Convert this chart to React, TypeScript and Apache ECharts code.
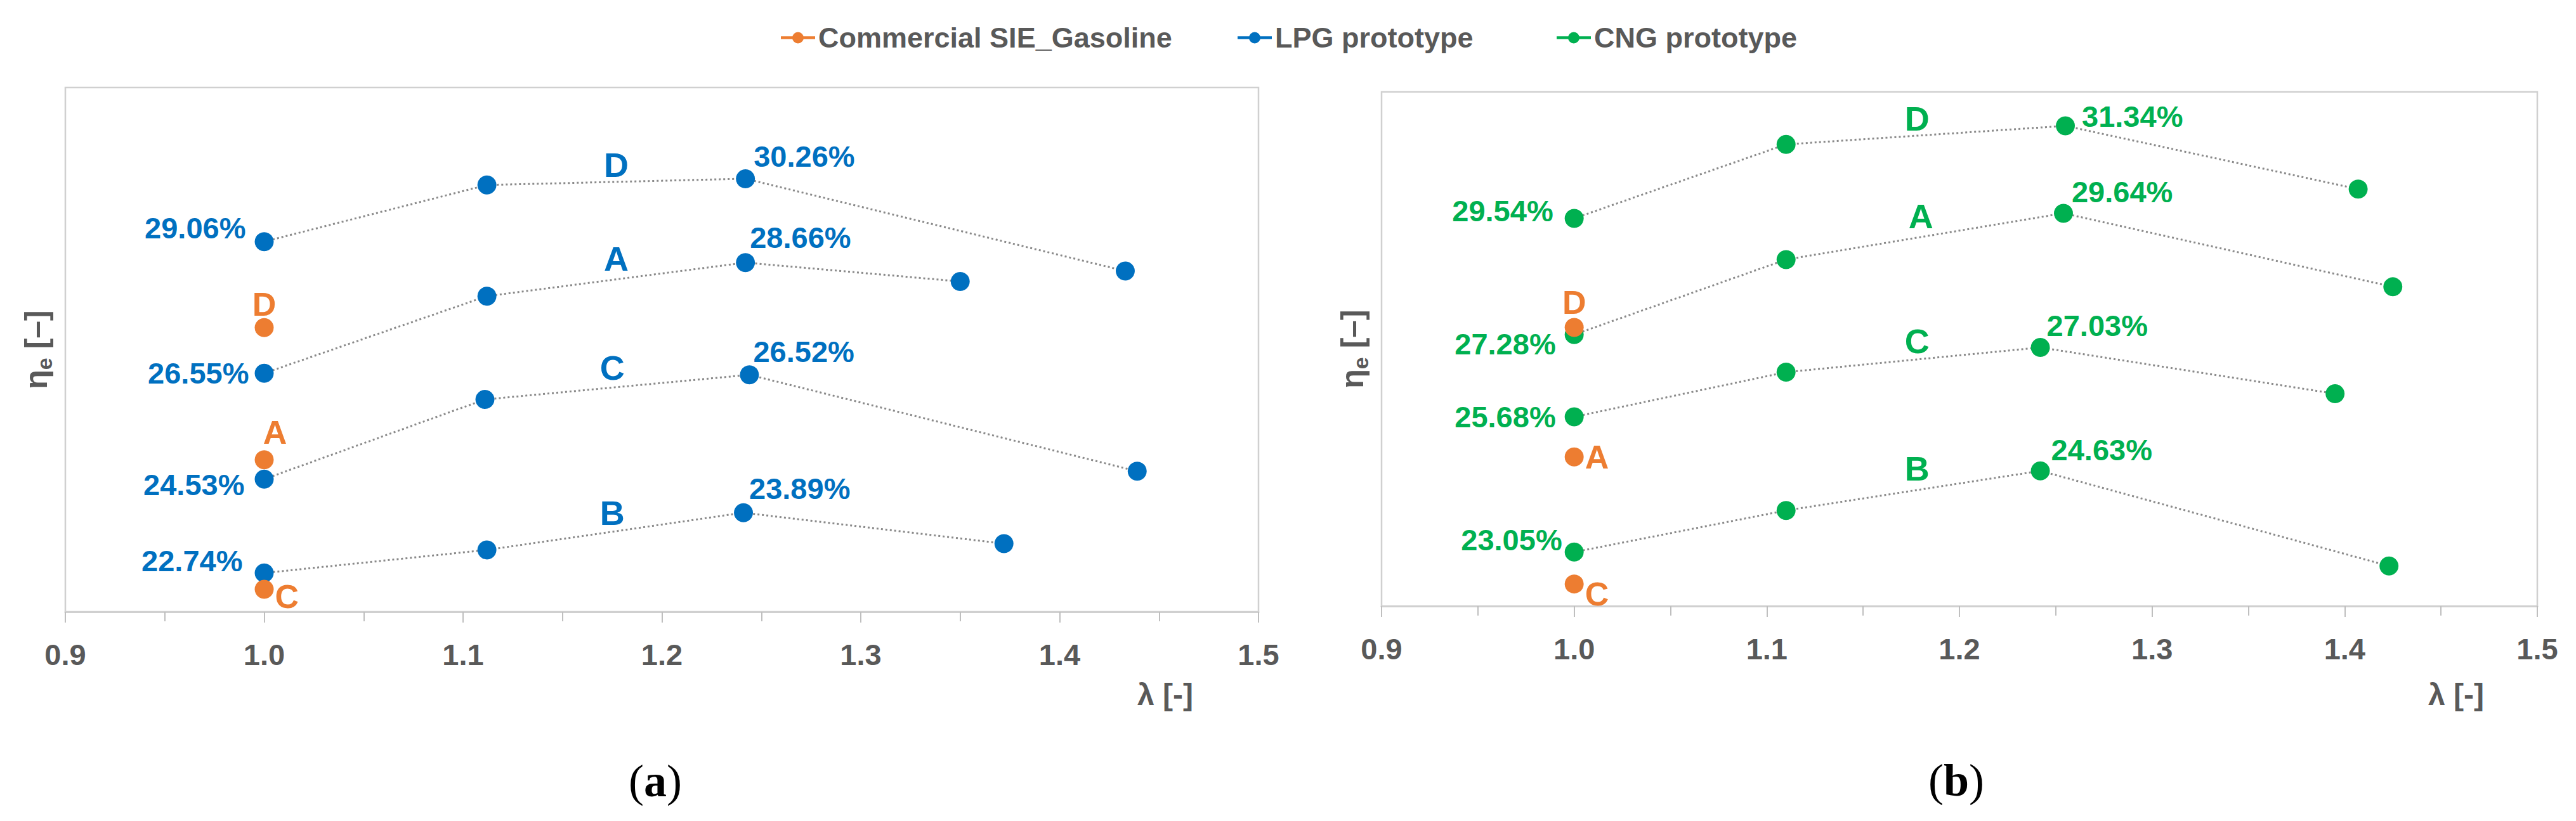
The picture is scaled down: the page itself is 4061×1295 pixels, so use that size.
import React, { useEffect, useRef } from "react";
import * as echarts from "echarts";

// ---------- data ----------
const xTickMin = 0.9;
const xTickMax = 1.5;
const xTickStep = 0.1;
const yMin = 22;
const yMax = 32;

// Commercial SIE gasoline (same reference points on both panels)
const gasLambda = [1.0, 1.0, 1.0];
const gasEta = [27.42, 24.9, 22.43];
const gasTags = ["D", "A", "C"];

// LPG prototype (panel a)
const lpgDLambda = [1.0, 1.112, 1.242, 1.433];
const lpgDEta = [29.06, 30.14, 30.26, 28.5];
const lpgALambda = [1.0, 1.112, 1.242, 1.35];
const lpgAEta = [26.55, 28.02, 28.66, 28.3];
const lpgCLambda = [1.0, 1.111, 1.244, 1.439];
const lpgCEta = [24.53, 26.05, 26.52, 24.68];
const lpgBLambda = [1.0, 1.112, 1.241, 1.372];
const lpgBEta = [22.74, 23.18, 23.89, 23.3];

// CNG prototype (panel b)
const cngDLambda = [1.0, 1.11, 1.255, 1.407];
const cngDEta = [29.54, 30.98, 31.34, 30.11];
const cngALambda = [1.0, 1.11, 1.254, 1.425];
const cngAEta = [27.28, 28.74, 29.64, 28.21];
const cngCLambda = [1.0, 1.11, 1.242, 1.395];
const cngCEta = [25.68, 26.55, 27.03, 26.13];
const cngBLambda = [1.0, 1.11, 1.242, 1.423];
const cngBEta = [23.05, 23.86, 24.63, 22.78];

// curve-name annotations (data coordinates)
const lpgTagNames = ["D", "A", "C", "B"];
const lpgTagLambda = [1.177, 1.177, 1.175, 1.175];
const lpgTagEta = [30.52, 28.74, 26.66, 23.89];
const cngTagNames = ["D", "A", "C", "B"];
const cngTagLambda = [1.178, 1.18, 1.178, 1.178];
const cngTagEta = [31.48, 29.58, 27.15, 24.67];

const legendNames = ["Commercial SIE_Gasoline", "LPG prototype", "CNG prototype"];

// ---------- styles ----------
const FONT = "'Liberation Sans', Arial, Helvetica, sans-serif";
const SERIF = "'Liberation Serif', 'Times New Roman', Times, serif";
const GRAY = "#595959";
const ORANGE = "#ED7D31";
const BLUE = "#0070C0";
const GREEN = "#00B050";
const ICON = "path://M0,8.5h60v5h-60z M20,11a10,10 0 1,1 20,0a10,10 0 1,1 -20,0z";

type LC = { position: string; distance: number; offset?: number[] } | null;

// label placement (style only)
const lpgLabelPos: Record<string, LC[]> = {
  D: [{ position: "left", distance: 14, offset: [0, -22] }, null, { position: "right", distance: -2, offset: [0, -35] }, null],
  A: [{ position: "left", distance: 9, offset: [0, 0] }, null, { position: "right", distance: -8, offset: [0, -40] }, null],
  C: [{ position: "left", distance: 16, offset: [0, 9] }, null, { position: "right", distance: -9, offset: [0, -37] }, null],
  B: [{ position: "left", distance: 19, offset: [0, -19] }, null, { position: "right", distance: -6, offset: [0, -38] }, null],
};
const cngLabelPos: Record<string, LC[]> = {
  D: [{ position: "left", distance: 18, offset: [0, -12] }, null, { position: "right", distance: 11, offset: [0, -15] }, null],
  A: [{ position: "left", distance: 14, offset: [0, 15] }, null, { position: "right", distance: -2, offset: [0, -34] }, null],
  C: [{ position: "left", distance: 14, offset: [0, 0] }, null, { position: "right", distance: -5, offset: [0, -35] }, null],
  B: [{ position: "left", distance: 4, offset: [0, -19] }, null, { position: "right", distance: 2, offset: [0, -33] }, null],
};
const gasLabelPosA: LC[] = [
  { position: "top", distance: -4, offset: [0, 0] },
  { position: "top", distance: 2, offset: [17, 0] },
  { position: "right", distance: 2, offset: [0, 12] },
];
const gasLabelPosB: LC[] = [
  { position: "top", distance: -2, offset: [0, 0] },
  { position: "right", distance: 2, offset: [0, 0] },
  { position: "right", distance: 2, offset: [0, 16] },
];

function curve(name: string, color: string, g: number, lam: number[], eta: number[], pos: LC[]) {
  return {
    type: "line",
    name,
    xAxisIndex: g,
    yAxisIndex: g,
    color,
    symbol: "circle",
    symbolSize: 30,
    itemStyle: { color },
    lineStyle: { color: "#8a8a8a", width: 3, type: [3, 4] },
    label: {
      show: false,
      color,
      fontSize: 47,
      fontWeight: "bold",
      fontFamily: FONT,
      formatter: (p: any) => p.value[1].toFixed(2) + "%",
    },
    data: lam.map((x, i) => {
      const item: any = { value: [x, eta[i]] };
      const lc = pos[i];
      if (lc) item.label = { show: true, ...lc };
      return item;
    }),
    z: 3,
  };
}

function gasSeries(g: number, pos: LC[]) {
  return {
    type: "scatter",
    name: legendNames[0],
    xAxisIndex: g,
    yAxisIndex: g,
    symbol: "circle",
    symbolSize: 30,
    itemStyle: { color: ORANGE, opacity: 1 },
    label: {
      show: true,
      color: ORANGE,
      fontSize: 52,
      fontWeight: "bold",
      fontFamily: FONT,
      formatter: (p: any) => p.value[2],
    },
    data: gasLambda.map((x, i) => ({
      value: [x, gasEta[i], gasTags[i]],
      label: { ...(pos[i] as any) },
    })),
    z: 5,
  };
}

function tagSeries(g: number, color: string, names: string[], lam: number[], eta: number[]) {
  return {
    type: "scatter",
    name: "tags" + g,
    xAxisIndex: g,
    yAxisIndex: g,
    symbol: "circle",
    symbolSize: 0.01,
    silent: true,
    itemStyle: { color, opacity: 1 },
    label: {
      show: true,
      position: "inside",
      color,
      opacity: 1,
      textBorderWidth: 0,
      fontSize: 54,
      fontWeight: "bold",
      fontFamily: FONT,
      formatter: (p: any) => p.value[2],
    },
    data: lam.map((x, i) => [x, eta[i], names[i]]),
    z: 4,
  };
}

function xAxis(g: number) {
  return {
    type: "value",
    gridIndex: g,
    min: xTickMin,
    max: xTickMax,
    interval: xTickStep,
    axisLine: { show: true, lineStyle: { color: "#d0d0d0", width: 3 } },
    axisTick: { show: true, length: 17, lineStyle: { color: "#bfbfbf", width: 2 } },
    minorTick: { show: true, splitNumber: 2, length: 15, lineStyle: { color: "#bfbfbf", width: 2 } },
    splitLine: { show: false },
    axisLabel: {
      margin: 44,
      color: GRAY,
      fontSize: 47,
      fontWeight: "bold",
      fontFamily: FONT,
      formatter: (v: number) => v.toFixed(1),
    },
  };
}

function yAxis(g: number) {
  return {
    type: "value",
    gridIndex: g,
    min: yMin,
    max: yMax,
    axisLine: { show: false },
    axisTick: { show: false },
    axisLabel: { show: false },
    splitLine: { show: false },
    name: "{a|η}{b|e}{a| [–]}",
    nameLocation: "middle",
    nameRotate: 90,
    nameGap: 16,
    nameTextStyle: {
      rich: {
        a: { fontSize: 50, fontWeight: "bold", color: GRAY, fontFamily: FONT, lineHeight: 58 },
        b: { fontSize: 34, fontWeight: "bold", color: GRAY, fontFamily: FONT, padding: [26, 0, 0, 0] },
      },
    },
  };
}

function legend(idx: number, left: number) {
  return {
    data: [{ name: legendNames[idx], icon: ICON }],
    left,
    top: 32,
    itemWidth: 54,
    itemHeight: 18,
    selectedMode: false,
    textStyle: { color: GRAY, fontSize: 45, fontWeight: "bold", fontFamily: FONT },
  };
}

export default function App() {
  const ref = useRef<HTMLDivElement>(null);
  useEffect(() => {
    if (!ref.current) return;
    const chart = echarts.init(ref.current, undefined, { renderer: "svg" });
    const option: any = {
      animation: false,
      backgroundColor: "#ffffff",
      legend: [legend(0, 1226), legend(1, 1946), legend(2, 2449)],
      grid: [
        { left: 103, top: 138, width: 1881, height: 827, show: true, borderColor: "#d0d0d0", borderWidth: 2.5, backgroundColor: "transparent" },
        { left: 2178, top: 145, width: 1822, height: 811, show: true, borderColor: "#d0d0d0", borderWidth: 2.5, backgroundColor: "transparent" },
      ],
      xAxis: [xAxis(0), xAxis(1)],
      yAxis: [yAxis(0), yAxis(1)],
      series: [
        curve(legendNames[1], BLUE, 0, lpgDLambda, lpgDEta, lpgLabelPos.D),
        curve(legendNames[1], BLUE, 0, lpgALambda, lpgAEta, lpgLabelPos.A),
        curve(legendNames[1], BLUE, 0, lpgCLambda, lpgCEta, lpgLabelPos.C),
        curve(legendNames[1], BLUE, 0, lpgBLambda, lpgBEta, lpgLabelPos.B),
        curve(legendNames[2], GREEN, 1, cngDLambda, cngDEta, cngLabelPos.D),
        curve(legendNames[2], GREEN, 1, cngALambda, cngAEta, cngLabelPos.A),
        curve(legendNames[2], GREEN, 1, cngCLambda, cngCEta, cngLabelPos.C),
        curve(legendNames[2], GREEN, 1, cngBLambda, cngBEta, cngLabelPos.B),
        tagSeries(0, BLUE, lpgTagNames, lpgTagLambda, lpgTagEta),
        tagSeries(1, GREEN, cngTagNames, cngTagLambda, cngTagEta),
        gasSeries(0, gasLabelPosA),
        gasSeries(1, gasLabelPosB),
      ],
      graphic: [
        { type: "text", x: 1837, y: 1095, style: { text: "λ [-]", fontSize: 48, fontWeight: "bold", fill: GRAY, fontFamily: FONT, align: "center", verticalAlign: "middle" } },
        { type: "text", x: 3872, y: 1095, style: { text: "λ [-]", fontSize: 48, fontWeight: "bold", fill: GRAY, fontFamily: FONT, align: "center", verticalAlign: "middle" } },
        {
          type: "text", x: 1033, y: 1232,
          style: {
            text: "{p|(}{q|a}{p|)}", align: "center", verticalAlign: "middle",
            rich: { p: { fontSize: 72, fontFamily: SERIF, fill: "#000" }, q: { fontSize: 72, fontWeight: "bold", fontFamily: SERIF, fill: "#000" } },
          },
        },
        {
          type: "text", x: 3084, y: 1231,
          style: {
            text: "{p|(}{q|b}{p|)}", align: "center", verticalAlign: "middle",
            rich: { p: { fontSize: 72, fontFamily: SERIF, fill: "#000" }, q: { fontSize: 72, fontWeight: "bold", fontFamily: SERIF, fill: "#000" } },
          },
        },
      ],
    };
    chart.setOption(option);
    return () => chart.dispose();
  }, []);
  return <div ref={ref} style={{ position: "fixed", left: 0, top: 0, width: 4061, height: 1295 }} />;
}
